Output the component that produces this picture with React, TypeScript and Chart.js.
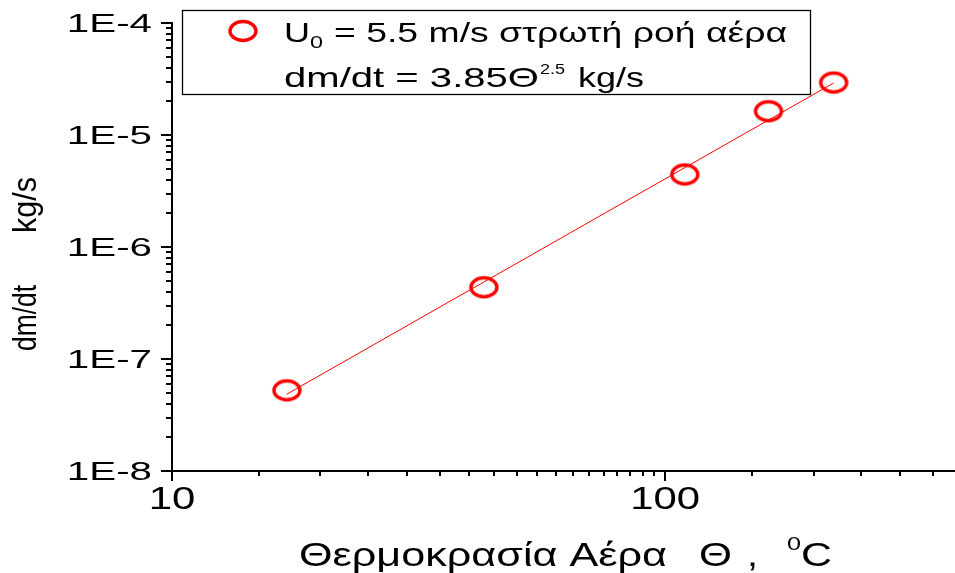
import { useEffect, useRef } from "react";
import { Chart, registerables } from "chart.js";

Chart.register(...registerables);

// Measured evaporation rate against air temperature (laminar flow, U0 = 5.5 m/s)
const thetaC = [17.1, 42.9, 109.6, 162, 219.6];
const massRate = [5.25e-8, 4.37e-7, 4.44e-6, 1.63e-5, 2.94e-5];

// End points of the power-law fit line
const fitTheta = [17.07, 219.5];
const fitRate = [4.84e-8, 2.91e-5];

// Axis ranges and tick positions
const xRange = [10, 387];
const yRange = [1e-8, 1e-4];
const xMajorTicks = [10, 100];
const xTickLabels = ["10", "100"];
const xMinorTicks = [15, 20, 25, 30, 35, 40, 45, 50, 55, 60, 65, 70, 75, 80, 85, 90, 95, 150, 200, 250, 300, 350];
const yMajorTicks = [1e-8, 1e-7, 1e-6, 1e-5, 1e-4];
const yTickLabels = ["1E-8", "1E-7", "1E-6", "1E-5", "1E-4"];
const yMinorMultipliers = [2, 3, 4, 5, 6, 7, 8, 9];
const yMinorDecades = [1e-8, 1e-7, 1e-6, 1e-5];

const FONT = '"Liberation Sans", Arial, Helvetica, sans-serif';
const RED = "#ff0000";

type RunOpts = { sx?: number; sy?: number; width?: number; align?: CanvasTextAlign; rotate?: number };

// Draws a text run, optionally stretched along its direction (either a fixed
// factor or fitted to a given advance width) and across it.
function drawRun(ctx: CanvasRenderingContext2D, text: string, x: number, y: number, size: number, opts: RunOpts = {}) {
  ctx.save();
  ctx.font = `${size}px ${FONT}`;
  const w = ctx.measureText(text).width;
  const sx = opts.width ? opts.width / w : opts.sx ?? 1;
  ctx.translate(x, y);
  if (opts.rotate) ctx.rotate(opts.rotate);
  ctx.scale(sx, opts.sy ?? 1);
  ctx.textAlign = opts.align ?? "left";
  ctx.textBaseline = "alphabetic";
  ctx.fillStyle = "#000";
  ctx.fillText(text, 0, 0);
  ctx.restore();
}

// Open red ellipse used as the marker symbol
function makeMarker(): HTMLCanvasElement {
  const c = document.createElement("canvas");
  c.width = 32;
  c.height = 26;
  const g = c.getContext("2d")!;
  g.strokeStyle = RED;
  g.lineWidth = 3.4;
  g.beginPath();
  g.ellipse(16, 13, 13, 9.5, 0, 0, Math.PI * 2);
  g.stroke();
  return c;
}

const figurePlugin = {
  id: "figureDecor",
  afterDraw(chart: Chart) {
    const ctx = chart.ctx;
    const xs = chart.scales.x;
    const ys = chart.scales.y;
    const { left, bottom } = chart.chartArea;
    const marker = (chart.options as any).plugins.figureDecor.marker as HTMLCanvasElement;

    // outward tick marks, long for decades, short for the rest
    ctx.save();
    ctx.strokeStyle = "#000";
    ctx.lineWidth = 2;
    ctx.beginPath();
    xMajorTicks.forEach((v) => {
      const px = Math.round(xs.getPixelForValue(v));
      ctx.moveTo(px, bottom);
      ctx.lineTo(px, bottom + 10);
    });
    xMinorTicks.forEach((v) => {
      const px = Math.round(xs.getPixelForValue(v));
      ctx.moveTo(px, bottom);
      ctx.lineTo(px, bottom + 5);
    });
    yMajorTicks.forEach((v) => {
      const py = Math.round(ys.getPixelForValue(v));
      ctx.moveTo(left, py);
      ctx.lineTo(left - 11, py);
    });
    yMinorDecades.forEach((d) =>
      yMinorMultipliers.forEach((m) => {
        const py = Math.round(ys.getPixelForValue(m * d));
        ctx.moveTo(left, py);
        ctx.lineTo(left - 6, py);
      })
    );
    ctx.stroke();
    ctx.restore();

    // tick labels
    yMajorTicks.forEach((v, i) => {
      drawRun(ctx, yTickLabels[i], 152, ys.getPixelForValue(v) + 9, 26, { sx: 1.55, align: "right" });
    });
    xMajorTicks.forEach((v, i) => {
      drawRun(ctx, xTickLabels[i], xs.getPixelForValue(v), 509, 31, { sx: 1.35, align: "center" });
    });

    // x axis title
    drawRun(ctx, "Θερμοκρασία Αέρα", 299, 566, 33, { width: 368 });
    drawRun(ctx, "Θ", 699, 566, 33, { width: 33 });
    drawRun(ctx, ",", 747, 566, 33, { width: 11 });
    drawRun(ctx, "0", 787, 550, 19, { width: 14 });
    drawRun(ctx, "C", 801, 566, 33, { width: 31 });

    // y axis title
    drawRun(ctx, "dm/dt", 36, 318, 26, { width: 66, sy: 1.28, align: "center", rotate: -Math.PI / 2 });
    drawRun(ctx, "kg/s", 36, 205, 26, { width: 56, sy: 1.28, align: "center", rotate: -Math.PI / 2 });

    // legend box
    ctx.save();
    ctx.strokeStyle = "#000";
    ctx.lineWidth = 1.3;
    ctx.strokeRect(182.5, 10.5, 628, 84);
    ctx.drawImage(marker, 243 - marker.width / 2, 31 - marker.height / 2);
    ctx.restore();
    drawRun(ctx, "U", 284, 41.5, 28, { width: 26 });
    drawRun(ctx, "0", 310, 48, 16, { width: 13 });
    drawRun(ctx, "= 5.5 m/s στρωτή ροή αέρα", 334, 41.5, 28, { width: 453 });
    drawRun(ctx, "dm/dt = 3.85Θ", 284, 87, 28, { width: 255 });
    drawRun(ctx, "2.5", 540, 74, 15, { width: 25 });
    drawRun(ctx, "kg/s", 578, 87, 28, { width: 66 });
  },
};

export default function App() {
  const canvasRef = useRef<HTMLCanvasElement | null>(null);

  useEffect(() => {
    const canvas = canvasRef.current;
    if (!canvas) return;
    const marker = makeMarker();

    const measured = thetaC.map((t, i) => ({ x: t, y: massRate[i] }));
    const fit = fitTheta.map((t, i) => ({ x: t, y: fitRate[i] }));

    const chart = new Chart(canvas, {
      type: "scatter",
      data: {
        datasets: [
          {
            label: "measured",
            data: measured,
            pointStyle: marker,
            pointRadius: 12,
            showLine: false,
          },
          {
            label: "fit",
            data: fit,
            showLine: true,
            borderColor: RED,
            borderWidth: 1,
            pointRadius: 0,
          },
        ],
      },
      options: {
        responsive: false,
        animation: false,
        devicePixelRatio: 1,
        events: [],
        layout: { autoPadding: false, padding: { left: 172, top: 23, right: 0, bottom: 102 } },
        plugins: {
          legend: { display: false },
          tooltip: { enabled: false },
          figureDecor: { marker },
        } as any,
        scales: {
          x: {
            type: "logarithmic",
            min: xRange[0],
            max: xRange[1],
            ticks: { display: false },
            grid: { display: false, drawTicks: false },
            border: { display: true, color: "#000", width: 2 },
          },
          y: {
            type: "logarithmic",
            min: yRange[0],
            max: yRange[1],
            ticks: { display: false },
            grid: { display: false, drawTicks: false },
            border: { display: true, color: "#000", width: 2 },
          },
        },
      },
      plugins: [figurePlugin],
    });

    return () => chart.destroy();
  }, []);

  return (
    <div style={{ position: "absolute", left: 0, top: 0, width: 955, height: 573, background: "#fff" }}>
      <canvas ref={canvasRef} width={955} height={573} style={{ display: "block" }} />
    </div>
  );
}
